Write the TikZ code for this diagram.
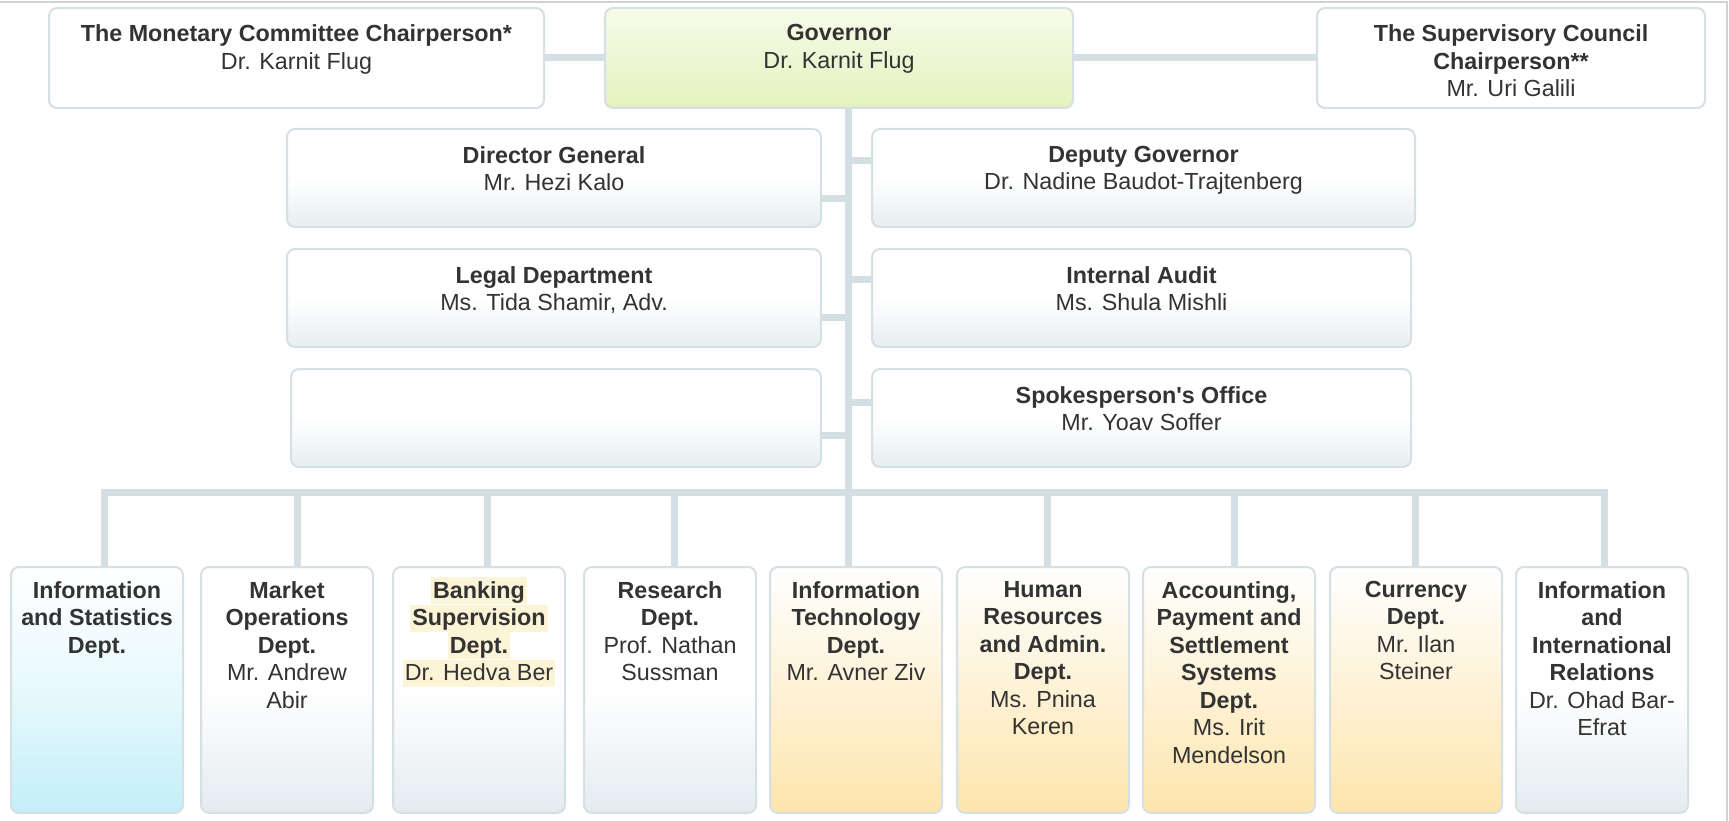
\documentclass[tikz,border=0pt]{standalone}
\usepackage{fontspec}
\setmainfont{Liberation Sans}
\usetikzlibrary{calc}

\definecolor{ink}{HTML}{333333}
\definecolor{edge}{HTML}{D5E0E4}
\definecolor{wire}{HTML}{D4DFE4}
\definecolor{frameline}{HTML}{D2D2D2}
\definecolor{govtop}{HTML}{F7FBEA}
\definecolor{govbot}{HTML}{E4F2BE}
\definecolor{palebot}{HTML}{E7EEF1}
\definecolor{graybot}{HTML}{E4EBEF}
\definecolor{orangebot}{HTML}{FDE5AD}
\definecolor{cyanbot}{HTML}{C3EFF9}
\definecolor{hly}{HTML}{FCF4D6}

% light yellow marker behind a line of text
\newsavebox\hlsave
\newcommand\hlline[1]{\sbox\hlsave{#1}%
  \rlap{\hspace{-2pt}\smash{\color{hly}\rule[-6pt]{\dimexpr\wd\hlsave+4pt\relax}{27pt}}}%
  \usebox\hlsave}

\pgfdeclarelayer{bg}
\pgfsetlayers{bg,main}

\begin{document}
\begin{tikzpicture}[x=1pt, y=-1pt,
  box/.style={rectangle, rounded corners=8pt, draw=edge, line width=2pt, inner sep=0pt},
  fillwhite/.style={fill=white},
  fillgov/.style={top color=govtop, bottom color=govbot},
  fillpale/.style={top color=white, bottom color=palebot, middle color=white},
  fillgray/.style={top color=white, bottom color=graybot, middle color=white},
  fillorange/.style={top color=white, bottom color=orangebot},
  fillcyan/.style={top color=white, bottom color=cyanbot, middle color=white!60!cyanbot},
  midbox/.style={box, fillpale, minimum height=98pt},
  botbox/.style={box, minimum width=172pt, minimum height=246pt},
  txt/.style={inner sep=0pt, anchor=north, align=center, text=ink,
              font=\fontsize{23.3pt}{27.5pt}\selectfont},
  conn/.style={draw=wire, line width=7pt},
]
\useasboundingbox (0,0) rectangle (1729,821);

% page frame
\draw[frameline, line width=1.5pt] (0,2) -- (1727,2) -- (1727,821);

% top row
\node[box, fillwhite, minimum width=495pt, minimum height=100pt] (mon) at (296.5,58) {};
\node[box, fillgov, minimum width=468pt, minimum height=100pt] (gov) at (839,58) {};
\node[box, fillwhite, minimum width=388pt, minimum height=100pt] (sup) at (1511,58) {};

\node[txt] (tmon) at ([yshift=-17.5pt]mon.north) {\textbf{The Monetary Committee Chairperson*}\\Dr. Karnit Flug};
\node[txt] (tgov) at ([yshift=-17.5pt]gov.north) {\textbf{Governor}\\Dr. Karnit Flug};
\node[txt] (tsup) at ([yshift=-17.5pt]sup.north) {\textbf{The Supervisory Council}\\\textbf{Chairperson**}\\Mr. Uri Galili};

% staff units beside the trunk
\node[midbox, minimum width=534pt] (dg) at (554,178) {};
\node[midbox, minimum width=543pt] (dep) at (1143.5,178) {};
\node[midbox, minimum width=534pt] (legal) at (554,298) {};
\node[midbox, minimum width=539pt] (audit) at (1141.5,298) {};
\node[midbox, minimum width=530pt] (blank) at (556,418) {};
\node[midbox, minimum width=539pt] (spok) at (1141.5,418) {};

\node[txt] (tdg) at ([yshift=-18pt]dg.north) {\textbf{Director General}\\Mr. Hezi Kalo};
\node[txt] (tdep) at ([yshift=-18pt]dep.north) {\textbf{Deputy Governor}\\Dr. Nadine Baudot-Trajtenberg};
\node[txt] (tlegal) at ([yshift=-18pt]legal.north) {\textbf{Legal Department}\\Ms. Tida Shamir, Adv.};
\node[txt] (taudit) at ([yshift=-18pt]audit.north) {\textbf{Internal Audit}\\Ms. Shula Mishli};
\node[txt] (tspok) at ([yshift=-18pt]spok.north) {\textbf{Spokesperson\textquotesingle s Office}\\Mr. Yoav Soffer};

% departments
\node[botbox, fillcyan] (b1) at (97,690) {};
\node[botbox, fillgray] (b2) at (287,690) {};
\node[botbox, fillgray] (b3) at (479,690) {};
\node[botbox, fillgray] (b4) at (670,690) {};
\node[botbox, fillorange] (b5) at (856,690) {};
\node[botbox, fillorange] (b6) at (1043,690) {};
\node[botbox, fillorange] (b7) at (1229,690) {};
\node[botbox, fillorange] (b8) at (1416,690) {};
\node[botbox, fillgray] (b9) at (1602,690) {};

\node[txt] (t1) at ([yshift=-15pt]b1.north) {\textbf{Information}\\\textbf{and Statistics}\\\textbf{Dept.}};
\node[txt] (t2) at ([yshift=-15pt]b2.north) {\textbf{Market}\\\textbf{Operations}\\\textbf{Dept.}\\Mr. Andrew\\Abir};
\node[txt] (t3) at ([yshift=-15pt]b3.north) {\hlline{\textbf{Banking}}\\\hlline{\textbf{Supervision}}\\\hlline{\textbf{Dept.}}\\\hlline{Dr. Hedva Ber}};
\node[txt] (t4) at ([yshift=-15pt]b4.north) {\textbf{Research}\\\textbf{Dept.}\\Prof. Nathan\\Sussman};
\node[txt] (t5) at ([yshift=-15pt]b5.north) {\textbf{Information}\\\textbf{Technology}\\\textbf{Dept.}\\Mr. Avner Ziv};
\node[txt] (t6) at ([yshift=-15pt]b6.north) {\textbf{Human}\\\textbf{Resources}\\\textbf{and Admin.}\\\textbf{Dept.}\\Ms. Pnina\\Keren};
\node[txt] (t7) at ([yshift=-15pt]b7.north) {\textbf{Accounting,}\\\textbf{Payment and}\\\textbf{Settlement}\\\textbf{Systems}\\\textbf{Dept.}\\Ms. Irit\\Mendelson};
\node[txt] (t8) at ([yshift=-15pt]b8.north) {\textbf{Currency}\\\textbf{Dept.}\\Mr. Ilan\\Steiner};
\node[txt] (t9) at ([yshift=-15pt]b9.north) {\textbf{Information}\\\textbf{and}\\\textbf{International}\\\textbf{Relations}\\Dr. Ohad Bar-\\Efrat};

% connector anchors
\coordinate (trunk) at (848,0);
\coordinate (d1) at (104.5,492);
\coordinate (d2) at (297.5,492);
\coordinate (d3) at (487.5,492);
\coordinate (d4) at (674.5,492);
\coordinate (d6) at (1047.5,492);
\coordinate (d7) at (1234.5,492);
\coordinate (d8) at (1415,492);
\coordinate (d9) at (1604,492);

\begin{pgfonlayer}{bg}
  \draw[conn] (mon.east) -- (gov.west);
  \draw[conn] (gov.east) -- (sup.west);
  \draw[conn] (gov.south -| trunk) -- (b5.north -| trunk);
  \draw[conn] ([yshift=-21pt]dg.east) coordinate (cdg) -- (cdg -| trunk);
  \draw[conn] ([yshift=-19pt]legal.east) coordinate (clegal) -- (clegal -| trunk);
  \draw[conn] ([yshift=-17pt]blank.east) coordinate (cblank) -- (cblank -| trunk);
  \draw[conn] ([yshift=17pt]dep.west) coordinate (cdep) -- (cdep -| trunk);
  \draw[conn] ([yshift=19pt]audit.west) coordinate (caudit) -- (caudit -| trunk);
  \draw[conn] ([yshift=16pt]spok.west) coordinate (cspok) -- (cspok -| trunk);
  \draw[conn, line join=miter] (b1.north -| d1) -- (d1) -- (d9) -- (b9.north -| d9);
  \foreach \k in {2,3,4,6,7,8}
    \draw[conn] (d\k) -- (b\k.north -| d\k);
\end{pgfonlayer}
\end{tikzpicture}
\end{document}
